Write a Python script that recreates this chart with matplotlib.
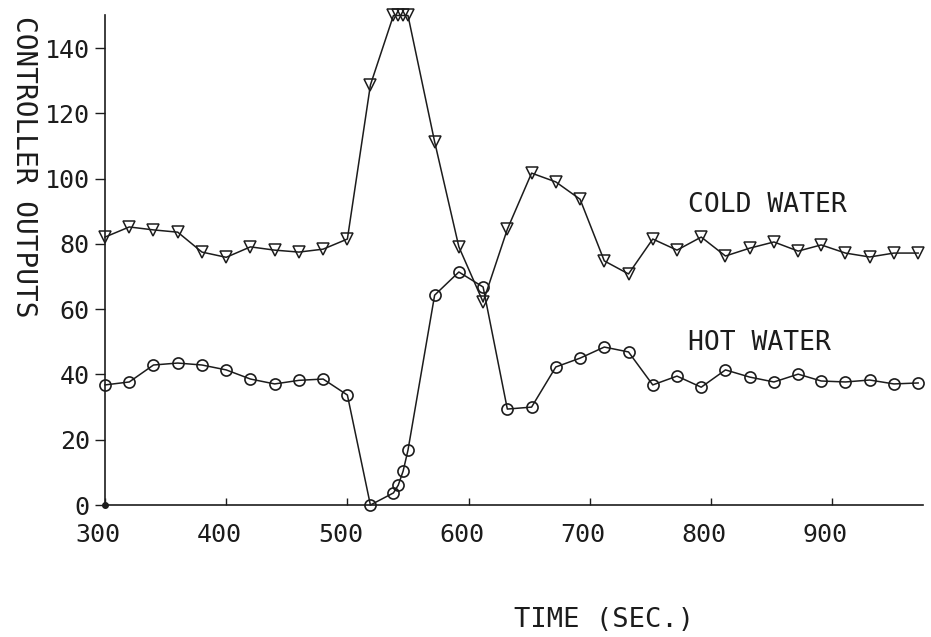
import matplotlib
matplotlib.use('Agg')
import matplotlib.pyplot as plt
from matplotlib.transforms import ScaledTranslation

# time stamps (sec)
time = [300, 320, 340, 360, 380, 400, 420, 440, 460, 480, 500,
        519, 538, 542, 546, 550,
        572, 592, 612, 632, 652, 672, 692, 712, 732, 752, 772, 792,
        812, 832, 852, 872, 891, 911, 931, 951, 971]

cold_water = [82.1, 85.2, 84.3, 83.6, 77.5, 75.9, 79.1, 78.1, 77.5, 78.4, 81.5,
              128.7, 150, 150, 150, 150,
              111.3, 79.1, 62.2, 84.5, 101.7, 99.0, 93.7, 74.8, 70.8, 81.5, 78.1, 82.1,
              76.3, 78.7, 80.6, 77.8, 79.7, 77.2, 76.0, 77.2, 77.2]

hot_water = [36.8, 37.7, 42.9, 43.5, 42.9, 41.4, 38.6, 37.1, 38.2, 38.6, 33.7,
             0.0, 3.7, 6.1, 10.4, 16.8,
             64.3, 71.4, 66.8, 29.4, 30.0, 42.3, 45.0, 48.4, 46.9, 36.8, 39.5, 36.1,
             41.4, 39.2, 37.7, 40.1, 38.0, 37.7, 38.3, 37.1, 37.4]

x_ticks = [300, 400, 500, 600, 700, 800, 900]
y_ticks = [0, 20, 40, 60, 80, 100, 120, 140]
x_lim = (300, 975)
y_lim = (0, 150)

INK = '#1c1c1c'

plt.rcParams['font.family'] = ['DejaVu Sans Mono']

fig = plt.figure(figsize=(9.31, 6.37), dpi=100)
ax = fig.add_axes([0.1128, 0.2072, 0.8786, 0.7685])

ax.plot(time, cold_water, color=INK, linewidth=1.1, marker='v', markersize=8.5,
        markerfacecolor='none', markeredgecolor=INK, markeredgewidth=1.1, clip_on=False)
ax.plot(time, hot_water, color=INK, linewidth=1.1, marker='o', markersize=8,
        markerfacecolor='none', markeredgecolor=INK, markeredgewidth=1.2, clip_on=False)
# dot at the origin of the axes
ax.plot(x_lim[0], y_lim[0], marker='o', markersize=4, color=INK, clip_on=False)

ax.set_xlim(*x_lim)
ax.set_ylim(*y_lim)
ax.set_xticks(x_ticks)
ax.set_yticks(y_ticks)

for side in ['top', 'right']:
    ax.spines[side].set_visible(False)
for side in ['left', 'bottom']:
    ax.spines[side].set_color(INK)
    ax.spines[side].set_linewidth(1.2)

ax.tick_params(axis='x', direction='in', length=5, width=1.0, color=INK,
               labelsize=18, pad=13, labelcolor=INK)
ax.tick_params(axis='y', direction='out', length=7, width=1.0, color=INK,
               labelsize=18, pad=4, labelcolor=INK)

# the plotter put the x labels a little left of their ticks
shift = ScaledTranslation(-7 / 100, 0, fig.dpi_scale_trans)
for lbl in ax.get_xticklabels():
    lbl.set_transform(lbl.get_transform() + shift)

ax.text(781, 91.9, 'COLD WATER', fontsize=19, color=INK, va='center', ha='left')
ax.text(781, 49.6, 'HOT WATER', fontsize=19, color=INK, va='center', ha='left')

fig.text(0.026, 0.975, 'CONTROLLER OUTPUTS', rotation=270, fontsize=20,
         color=INK, ha='center', va='top')
fig.text(0.649, 0.027, 'TIME (SEC.)', fontsize=19.5, color=INK, ha='center', va='center')

fig.savefig('out.png', dpi=100)
